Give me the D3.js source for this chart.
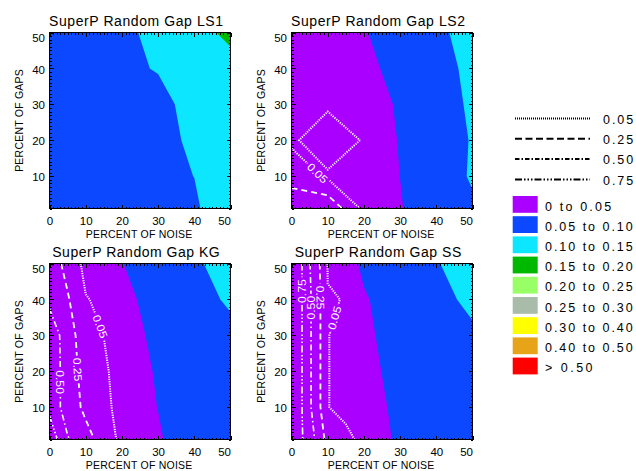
<!DOCTYPE html>
<html><head><meta charset="utf-8">
<script src="https://cdn.jsdelivr.net/npm/d3@7"></script>
<style>body{margin:0;background:#fff}svg{display:block}</style>
</head><body>
<script>
// ---------- data ----------
const noiseGrid = [0, 10, 20, 30, 40, 50];
const noiseFine = [0, 5, 10, 15, 20, 25, 30, 35, 40, 45, 50];
const gapsGrid  = [1, 10, 20, 30, 40, 50];
const xTicks = [0, 10, 20, 30, 40, 50];
const yTicks = [10, 20, 30, 40, 50];

const fillLevels = [0, 0.05, 0.10, 0.15, 0.20, 0.25, 0.30, 0.40, 0.50];
const fillColors = ["#aa00ff", "#0c48ff", "#0ce6ff", "#00b800", "#99ff66", "#a9bba9", "#ffff00", "#e8a418", "#ff0000"];
const fillLabels = ["0 to 0.05", "0.05 to 0.10", "0.10 to 0.15", "0.15 to 0.20", "0.20 to 0.25", "0.25 to 0.30", "0.30 to 0.40", "0.40 to 0.50", "> 0.50"];
const lineLevels = [0.05, 0.25, 0.50, 0.75];
const lineLabels = ["0.05", "0.25", "0.50", "0.75"];

// rows: gaps 1,10,20,30,40,50 ; columns: noise
const ls1Fill = [
  [0.065, 0.070, 0.075, 0.080, 0.0916, 0.141],
  [0.070, 0.075, 0.080, 0.085, 0.1005, 0.120],
  [0.070, 0.075, 0.085, 0.090, 0.1056, 0.125],
  [0.070, 0.080, 0.088, 0.094, 0.107, 0.130],
  [0.070, 0.080, 0.0963, 0.1011, 0.120, 0.1305],
  [0.070, 0.080, 0.091, 0.111, 0.130, 0.163]
];
const ls2Fill = [
  [0.020, 0.025, 0.035, 0.049, 0.0601, 0.0967],
  [0.020, 0.028, 0.040, 0.0501, 0.088, 0.1023],
  [0.022, 0.030, 0.040, 0.0509, 0.088, 0.1015],
  [0.025, 0.032, 0.040, 0.0525, 0.088, 0.104],
  [0.028, 0.035, 0.045, 0.0561, 0.090, 0.1064],
  [0.030, 0.035, 0.048, 0.0647, 0.090, 0.1178]
];
const ls2Lines = [
  [0.352, 0.413, 0.005, 0.005, 0.005, 0.005],
  [0.191, 0.0171, 0.010, 0.005, 0.005, 0.005],
  [0.0101, 0.200, 0.0315, 0.010, 0.005, 0.005],
  [0.010, 0.0125, 0.010, 0.005, 0.005, 0.005],
  [0.005, 0.005, 0.005, 0.005, 0.005, 0.005],
  [0.005, 0.005, 0.005, 0.005, 0.005, 0.005]
];
const kgFill = [
  [0.020, 0.030, 0.040, 0.048, 0.0613, 0.085],
  [0.020, 0.030, 0.040, 0.0503, 0.080, 0.090],
  [0.020, 0.030, 0.040, 0.0518, 0.080, 0.090],
  [0.020, 0.030, 0.042, 0.0543, 0.085, 0.0927],
  [0.020, 0.030, 0.045, 0.0569, 0.090, 0.1039],
  [0.020, 0.030, 0.049, 0.069, 0.095, 0.1142]
];
const kgLines = [
  [0.928, 0.520, 0.330, 0.160, 0.000, 0, 0, 0, 0, 0, 0],
  [0.682, 0.379, 0.200, 0.080, 0.010, 0, 0, 0, 0, 0, 0],
  [0.722, 0.352, 0.170, 0.065, 0.010, 0, 0, 0, 0, 0, 0],
  [0.718, 0.329, 0.150, 0.049, 0.010, 0, 0, 0, 0, 0, 0],
  [0.423, 0.271, 0.0585, 0.020, 0.000, 0, 0, 0, 0, 0, 0],
  [0.373, 0.181, 0.000, 0.000, 0.000, 0, 0, 0, 0, 0, 0]
];
const ssFill = [
  [0.020, 0.030, 0.040, 0.053, 0.078, 0.085],
  [0.020, 0.030, 0.040, 0.0554, 0.080, 0.088],
  [0.020, 0.030, 0.042, 0.0587, 0.082, 0.090],
  [0.020, 0.030, 0.045, 0.0606, 0.085, 0.0946],
  [0.020, 0.030, 0.048, 0.0605, 0.090, 0.1075],
  [0.020, 0.030, 0.0538, 0.075, 0.098, 0.1162]
];
const ssLines = [
  [0.946, 0.630, 0.167, 0.096, 0.000, 0, 0, 0, 0, 0, 0],
  [1.040, 0.540, 0.055, 0.000, 0.000, 0, 0, 0, 0, 0, 0],
  [1.040, 0.540, 0.055, 0.000, 0.000, 0, 0, 0, 0, 0, 0],
  [1.040, 0.540, 0.055, 0.000, 0.000, 0, 0, 0, 0, 0, 0],
  [1.040, 0.540, 0.055, 0.0476, 0.000, 0, 0, 0, 0, 0, 0],
  [1.078, 0.513, 0.0436, 0.000, 0.000, 0, 0, 0, 0, 0, 0]
];
// contour label anchors (level, near noise, near gaps, reading direction)
const ls2Labels = [{level: 0.05, at: [7.6, 11.3]}];
const kgLabels = [
  {level: 0.05, at: [13.6, 32.3]},
  {level: 0.25, at: [8.0, 20.5]},
  {level: 0.50, at: [3.0, 17.0]}
];
const ssLabels = [
  {level: 0.75, at: [2.9, 42.3], dir: "up"},
  {level: 0.50, at: [5.4, 37.7], dir: "up"},
  {level: 0.25, at: [8.0, 40.5], dir: "down"},
  {level: 0.05, at: [11.4, 35.0]}
];

// ---------- styling ----------
const W = 636, H = 471;
const FONT = "'Liberation Sans', Arial, Helvetica, sans-serif";
const dashes = ["1.2,1.2", "6,4", "6,3,1.5,3", "7,2.5,1.5,2,1.5,2,1.5,2.5"];
const widths = [2, 1.8, 1.6, 1.6];
const legDashes = ["1,1", "7,3.5", "4.5,2,1.5,2", "7,2,1.5,2,1.5,2,1.5,2"];
// Hershey-like advance widths used to size the strings
const hw = {" ":16, ".":10, ">":24, "A":18, "C":21, "E":19, "F":18, "G":21, "I":8, "K":21, "L":17,
  "N":22, "O":22, "P":21, "R":21, "S":20, "T":16, "a":19, "d":19, "e":18, "m":30, "n":19,
  "o":19, "p":19, "r":13, "t":12, "u":19};
const hwidth = s => [...s].reduce((a, c) => a + (hw[c] !== undefined ? hw[c] : 20), 0);

const panels = [
  {title: "SuperP Random Gap LS1", L: 49.5, R: 230.5, T: 32.5, B: 208.5, fill: ls1Fill, lines: null, lnoise: noiseGrid, labels: []},
  {title: "SuperP Random Gap LS2", L: 291.5, R: 472.5, T: 32.5, B: 208.5, fill: ls2Fill, lines: ls2Lines, lnoise: noiseGrid, labels: ls2Labels},
  {title: "SuperP Random Gap KG", L: 49.5, R: 230.5, T: 263.5, B: 439.5, fill: kgFill, lines: kgLines, lnoise: noiseFine, labels: kgLabels},
  {title: "SuperP Random Gap SS", L: 291.5, R: 472.5, T: 263.5, B: 439.5, fill: ssFill, lines: ssLines, lnoise: noiseFine, labels: ssLabels}
];

const svg = d3.select("body").append("svg").attr("width", W).attr("height", H)
  .style("font-family", FONT);
const defs = svg.append("defs");

// map a d3.contours grid coordinate to a data value along an axis
function gridToData(c, arr) {
  const n = arr.length;
  const i = Math.max(0, Math.min(n - 1, c - 0.5));
  const lo = Math.min(Math.floor(i), n - 2);
  const f = i - lo;
  return arr[lo] + f * (arr[lo + 1] - arr[lo]);
}

function ringToLines(pts, xa, ya) {
  const x0 = xa[0], x1 = xa[xa.length - 1], y0 = ya[0], y1 = ya[ya.length - 1];
  const eq = (a, b) => Math.abs(a - b) < 1e-9;
  const sameEdge = (p, q) => (eq(p[0], x0) && eq(q[0], x0)) || (eq(p[0], x1) && eq(q[0], x1)) ||
    (eq(p[1], y0) && eq(q[1], y0)) || (eq(p[1], y1) && eq(q[1], y1));
  const m = pts.length - 1;
  const keep = [];
  for (let i = 0; i < m; i++) keep.push(!sameEdge(pts[i], pts[i + 1]));
  if (keep.every(k => k)) return [pts];
  const start = keep.findIndex(k => !k);
  const out = []; let cur = null;
  for (let s = 1; s <= m; s++) {
    const i = (start + s) % m;
    if (keep[i]) { if (!cur) cur = [pts[i]]; cur.push(pts[i + 1]); }
    else if (cur) { out.push(cur); cur = null; }
  }
  if (cur) out.push(cur);
  return out;
}

panels.forEach((p, k) => {
  const xs = d3.scaleLinear().domain([0, 50]).range([p.L, p.R]);
  const ys = d3.scaleLinear().domain([1, 50]).range([p.B, p.T]);
  const g = svg.append("g");
  const clipId = "clip" + k;
  defs.append("clipPath").attr("id", clipId).append("rect")
    .attr("x", p.L).attr("y", p.T).attr("width", p.R - p.L).attr("height", p.B - p.T);

  // filled contours
  const nx = noiseGrid.length, ny = gapsGrid.length;
  const fc = d3.contours().size([nx, ny]).thresholds(fillLevels)(p.fill.flat());
  const proj = d3.geoTransform({point: function(x, y) {
    this.stream.point(xs(gridToData(x, noiseGrid)), ys(gridToData(y, gapsGrid)));
  }});
  const path = d3.geoPath(proj);
  g.append("g").attr("clip-path", `url(#${clipId})`)
    .selectAll("path").data(fc).join("path")
    .attr("d", d => path(d) || "")
    .attr("fill", d => fillColors[fillLevels.indexOf(d.value)]);

  // contour lines
  if (p.lines) {
    const lnx = p.lnoise.length;
    const lc = d3.contours().size([lnx, ny]).thresholds(lineLevels)(p.lines.flat());
    const sets = lc.map(c => {
      const polylines = [];
      c.coordinates.forEach(poly => poly.forEach(ring => {
        const pts = ring.map(q => [gridToData(q[0], p.lnoise), gridToData(q[1], gapsGrid)]);
        ringToLines(pts, p.lnoise, gapsGrid).forEach(l => polylines.push(l));
      }));
      return {value: c.value, lines: polylines};
    });
    // label placement
    const labs = p.labels.map(spec => {
      const set = sets.find(d => Math.abs(d.value - spec.level) < 1e-9);
      const hx = xs(spec.at[0]), hy = ys(spec.at[1]);
      let best = null;
      set.lines.forEach(pl => {
        for (let i = 0; i < pl.length - 1; i++) {
          const ax = xs(pl[i][0]), ay = ys(pl[i][1]), bx = xs(pl[i + 1][0]), by = ys(pl[i + 1][1]);
          const dx = bx - ax, dy = by - ay, L2 = dx * dx + dy * dy;
          if (L2 < 1e-9) continue;
          let t = ((hx - ax) * dx + (hy - ay) * dy) / L2;
          t = Math.max(0, Math.min(1, t));
          const px = ax + t * dx, py = ay + t * dy, d2 = (px - hx) ** 2 + (py - hy) ** 2;
          if (!best || d2 < best.d2) best = {d2, px, py, ang: Math.atan2(dy, dx) * 180 / Math.PI};
        }
      });
      let a = best.ang;
      while (a > 90) a -= 180;
      while (a <= -90) a += 180;
      if (spec.dir === "up" && a > 0) a -= 180;
      if (spec.dir === "down" && a < 0) a += 180;
      const txt = lineLabels[lineLevels.indexOf(spec.level)];
      return {x: best.px, y: best.py, a, txt, len: hwidth(txt) * 0.34};
    });
    const maskId = "mask" + k;
    const mask = defs.append("mask").attr("id", maskId).attr("maskUnits", "userSpaceOnUse")
      .attr("x", 0).attr("y", 0).attr("width", W).attr("height", H);
    mask.append("rect").attr("width", W).attr("height", H).attr("fill", "#fff");
    labs.forEach(l => mask.append("rect")
      .attr("x", -l.len / 2 - 2).attr("y", -5).attr("width", l.len + 4).attr("height", 10)
      .attr("transform", `translate(${l.x},${l.y}) rotate(${l.a})`).attr("fill", "#000"));
    const line = d3.line().x(d => xs(d[0])).y(d => ys(d[1]));
    const lg = g.append("g").attr("clip-path", `url(#${clipId})`).append("g").attr("mask", `url(#${maskId})`);
    sets.forEach(s => {
      const li = lineLevels.indexOf(s.value);
      lg.selectAll(null).data(s.lines).join("path")
        .attr("d", line).attr("fill", "none").attr("stroke", "#fff")
        .attr("stroke-width", widths[li]).attr("stroke-dasharray", dashes[li]);
    });
    g.selectAll(null).data(labs).join("text")
      .attr("transform", l => `translate(${l.x},${l.y}) rotate(${l.a})`)
      .attr("text-anchor", "middle").attr("dy", "0.36em")
      .attr("font-size", 11).attr("fill", "#fff")
      .attr("textLength", l => l.len).attr("lengthAdjust", "spacingAndGlyphs")
      .text(l => l.txt);
  }

  // axes with inward ticks on all sides
  const minorX = d3.range(0, 51, 1).filter(v => v % 10 !== 0);
  const minorY = d3.range(1, 51, 1).filter(v => v % 10 !== 0);
  const axG = g.append("g").attr("color", "#000").attr("shape-rendering", "crispEdges");
  const mk = (sel, ax) => { sel.call(ax); sel.select(".domain").remove(); return sel; };
  mk(axG.append("g").attr("transform", `translate(0,${p.B})`), d3.axisBottom(xs).tickValues(minorX).tickSize(-2).tickFormat(""));
  mk(axG.append("g").attr("transform", `translate(0,${p.T})`), d3.axisTop(xs).tickValues(minorX).tickSize(-2).tickFormat(""));
  mk(axG.append("g").attr("transform", `translate(0,${p.T})`), d3.axisTop(xs).tickValues(xTicks).tickSize(-4).tickFormat(""));
  mk(axG.append("g").attr("transform", `translate(${p.L},0)`), d3.axisLeft(ys).tickValues(minorY).tickSize(-2).tickFormat(""));
  mk(axG.append("g").attr("transform", `translate(${p.R},0)`), d3.axisRight(ys).tickValues(minorY).tickSize(-2).tickFormat(""));
  mk(axG.append("g").attr("transform", `translate(${p.R},0)`), d3.axisRight(ys).tickValues(yTicks).tickSize(-4).tickFormat(""));
  const bx = mk(axG.append("g").attr("transform", `translate(0,${p.B})`),
    d3.axisBottom(xs).tickValues(xTicks).tickSize(-4).tickPadding(8).tickFormat(d3.format("d")));
  bx.selectAll("text").attr("font-size", 11.5).attr("font-family", FONT)
    .filter(d => d === 50).attr("text-anchor", "end").attr("x", 0);
  const lx = mk(axG.append("g").attr("transform", `translate(${p.L},0)`),
    d3.axisLeft(ys).tickValues(yTicks).tickSize(-4).tickPadding(4.5).tickFormat(d3.format("d")));
  lx.selectAll("text").attr("font-size", 11.5).attr("font-family", FONT).attr("dy", "0.4em")
    .filter(d => d === 50).attr("y", 4.2);

  // frame
  g.append("rect").attr("x", p.L).attr("y", p.T).attr("width", p.R - p.L).attr("height", p.B - p.T)
    .attr("fill", "none").attr("stroke", "#000").attr("stroke-width", 1).attr("shape-rendering", "crispEdges");

  // title
  g.append("text").attr("x", (p.L + p.R) / 2 - 4).attr("y", p.T - 6.5)
    .attr("text-anchor", "middle").attr("font-size", 14)
    .attr("textLength", hwidth(p.title) * 0.434).attr("lengthAdjust", "spacing")
    .text(p.title);
  // axis titles
  const xt = "PERCENT OF NOISE", yt = "PERCENT OF GAPS";
  g.append("text").attr("x", (p.L + p.R) / 2 - 1).attr("y", p.B + 29)
    .attr("text-anchor", "middle").attr("font-size", 10.5)
    .attr("textLength", hwidth(xt) * 0.353).attr("lengthAdjust", "spacing").text(xt);
  g.append("text").attr("transform", `translate(${p.L - 26.8},${(p.T + p.B) / 2}) rotate(-90)`)
    .attr("text-anchor", "middle").attr("font-size", 10.5)
    .attr("textLength", hwidth(yt) * 0.353).attr("lengthAdjust", "spacing").text(yt);
});

// ---------- legend ----------
const leg = svg.append("g");
lineLevels.forEach((v, i) => {
  const y = 118.5 + i * 20.3;
  leg.append("line").attr("x1", 515).attr("x2", 590).attr("y1", y).attr("y2", y)
    .attr("stroke", "#000").attr("stroke-width", 2).attr("stroke-dasharray", legDashes[i]);
  leg.append("text").attr("x", 603).attr("y", y + 5.3).attr("font-size", 12.5)
    .attr("textLength", hwidth(lineLabels[i]) * 0.432).attr("lengthAdjust", "spacing")
    .text(lineLabels[i]);
});
fillColors.forEach((c, i) => {
  const y = 196 + i * 20.2;
  leg.append("rect").attr("x", 512.7).attr("y", y).attr("width", 25).attr("height", 16.8).attr("fill", c);
  leg.append("text").attr("x", 545).attr("y", y + 14.6).attr("font-size", 12.5)
    .attr("textLength", hwidth(fillLabels[i]) * 0.432).attr("lengthAdjust", "spacing")
    .text(fillLabels[i]);
});
</script>
</body></html>
